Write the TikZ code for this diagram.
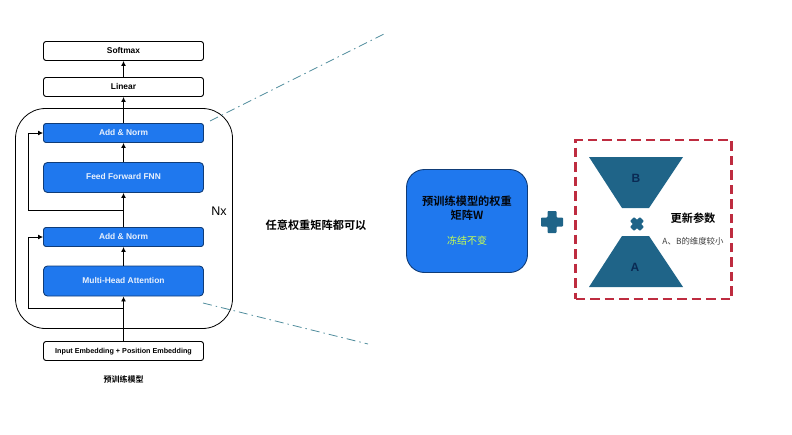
\documentclass[tikz,border=0pt]{standalone}
\usepackage{fontspec}
\setmainfont{Liberation Sans}
\newfontfamily\cjk{Noto Sans CJK SC}[BoldFont={Noto Sans CJK SC Bold}]
\usetikzlibrary{arrows.meta}

\definecolor{layerblue}{HTML}{1F78EE}
\definecolor{layeredge}{HTML}{0F3C78}
\definecolor{paramteal}{HTML}{1F6488}
\definecolor{linkteal}{HTML}{4F8C9C}
\definecolor{frozengreen}{HTML}{C8FF50}
\definecolor{dashred}{HTML}{BE2C40}

\begin{document}
\begin{tikzpicture}[
        x=1pt, y=-1pt,
        >={Latex[length=5pt,width=5pt]},
        plain box/.style={draw=black, fill=white, rounded corners=2.5pt, line width=0.9pt, minimum width=160pt, minimum height=19pt, inner sep=0pt, text height=6.2pt, text depth=1.4pt, font=\fontsize{8.4}{10}\selectfont\bfseries},
        thin layer/.style={plain box, draw=layeredge, fill=layerblue, text=white!90!layerblue},
        thick layer/.style={thin layer, minimum height=30pt, rounded corners=4pt},
        flow/.style={->, line width=0.9pt, black},
        link/.style={linkteal, line width=0.8pt, dash pattern=on 9pt off 4pt on 1.5pt off 4pt},
        label/.style={inner sep=0pt, font=\cjk\fontsize{11.2}{13}\selectfont\bfseries},
        plus mark/.pic={
            \fill[paramteal, rounded corners=0.8pt] (-11,-4.5) -- (-4.5,-4.5) -- (-4.5,-11) -- (4.5,-11) -- (4.5,-4.5) -- (11,-4.5) -- (11,4.5) -- (4.5,4.5) -- (4.5,11) -- (-4.5,11) -- (-4.5,4.5) -- (-11,4.5) -- cycle;
        }
      ]

      \useasboundingbox (0,0) rectangle (792,434);

      % encoder stack outline
      \node[draw=black, line width=0.8pt, rounded corners=30pt, minimum width=217pt, minimum height=220pt, inner sep=0pt] (stack) at (124,218.5) {};

      \node[plain box] (softmax) at (123.5,51) {Softmax};
      \node[plain box] (linear) at (123.5,87) {Linear};
      \node[thin layer] (norm top) at (123.5,133) {Add \& Norm};
      \node[thick layer] (ffn) at (123.5,177.5) {Feed Forward FNN};
      \node[thin layer] (norm low) at (123.5,237) {Add \& Norm};
      \node[thick layer] (attention) at (123.5,281) {Multi-Head Attention};
      \node[plain box, font=\fontsize{7.2}{9}\selectfont\bfseries] (embedding) at (123.5,351) {Input Embedding + Position Embedding};

      \node[font=\fontsize{12.5}{14}\selectfont, inner sep=0pt] (nx) at (219,211) {Nx};
      \node[label, font=\cjk\fontsize{8}{10}\selectfont\bfseries] (pretrained) at (123.5,379) {预训练模型};
      \node[label] (anyweight) at (316,225) {任意权重矩阵都可以};

      \draw[flow] (embedding.north) -- (attention.south);
      \draw[flow] (attention.north) -- (norm low.south);
      \draw[flow] (norm low.north) -- (ffn.south);
      \draw[flow] (ffn.north) -- (norm top.south);
      \draw[flow] (norm top.north) -- (linear.south);
      \draw[flow] (linear.north) -- (softmax.south);

      % residual paths
      \coordinate (skip low) at (123.5,308);
      \coordinate (skip top) at (123.5,210.5);
      \draw[flow] (skip low) -| (28.5,237) -- (norm low.west);
      \draw[flow] (skip top) -| (28.5,133) -- (norm top.west);

      % zoom lines
      \coordinate (zoom a) at (210,121);
      \coordinate (zoom b) at (386,33);
      \coordinate (zoom c) at (203,303);
      \coordinate (zoom d) at (368,344);
      \draw[link] (zoom a) -- (zoom b);
      \draw[link] (zoom c) -- (zoom d);

      % frozen weights
      \node[draw=layeredge, fill=layerblue, line width=0.9pt, rounded corners=18pt, minimum width=121pt, minimum height=103pt, inner sep=0pt] (weights) at (467,221) {};
      \node[inner sep=0pt, align=center, text=black!90!layeredge, font=\cjk\fontsize{11.2}{13.5}\selectfont\bfseries] (weights text) at (467,208) {预训练模型的权重\\矩阵W};
      \node[inner sep=0pt, text=frozengreen, font=\cjk\fontsize{10}{12}\selectfont] (frozen) at (467,241) {冻结不变};

      \pic at (552,222) {plus mark};

      % updated part
      \node[draw=dashred, line width=2.2pt, dash pattern=on 9.5pt off 5pt, minimum width=156pt, minimum height=159pt, inner sep=0pt] (update) at (653.5,219.5) {};

      \fill[paramteal] (589,157) -- (683,157) -- (649,208) -- (622,208) -- cycle;
      \fill[paramteal] (622,236) -- (649,236) -- (683,287) -- (589,287) -- cycle;
      \pic[rotate=45, scale=0.64] at (637,224) {plus mark};

      \node[inner sep=0pt, text=layeredge!70!black, font=\fontsize{12}{14}\selectfont\bfseries] (b) at (636,178) {B};
      \node[inner sep=0pt, text=layeredge!70!black, font=\fontsize{12}{14}\selectfont\bfseries] (a) at (635,267) {A};
      \node[label] (update title) at (693,218) {更新参数};
      \node[inner sep=0pt, text=black!75, font=\cjk\fontsize{8.4}{10}\selectfont] (update note) at (693,241) {A、B的维度较小};

    \end{tikzpicture}
\end{document}
